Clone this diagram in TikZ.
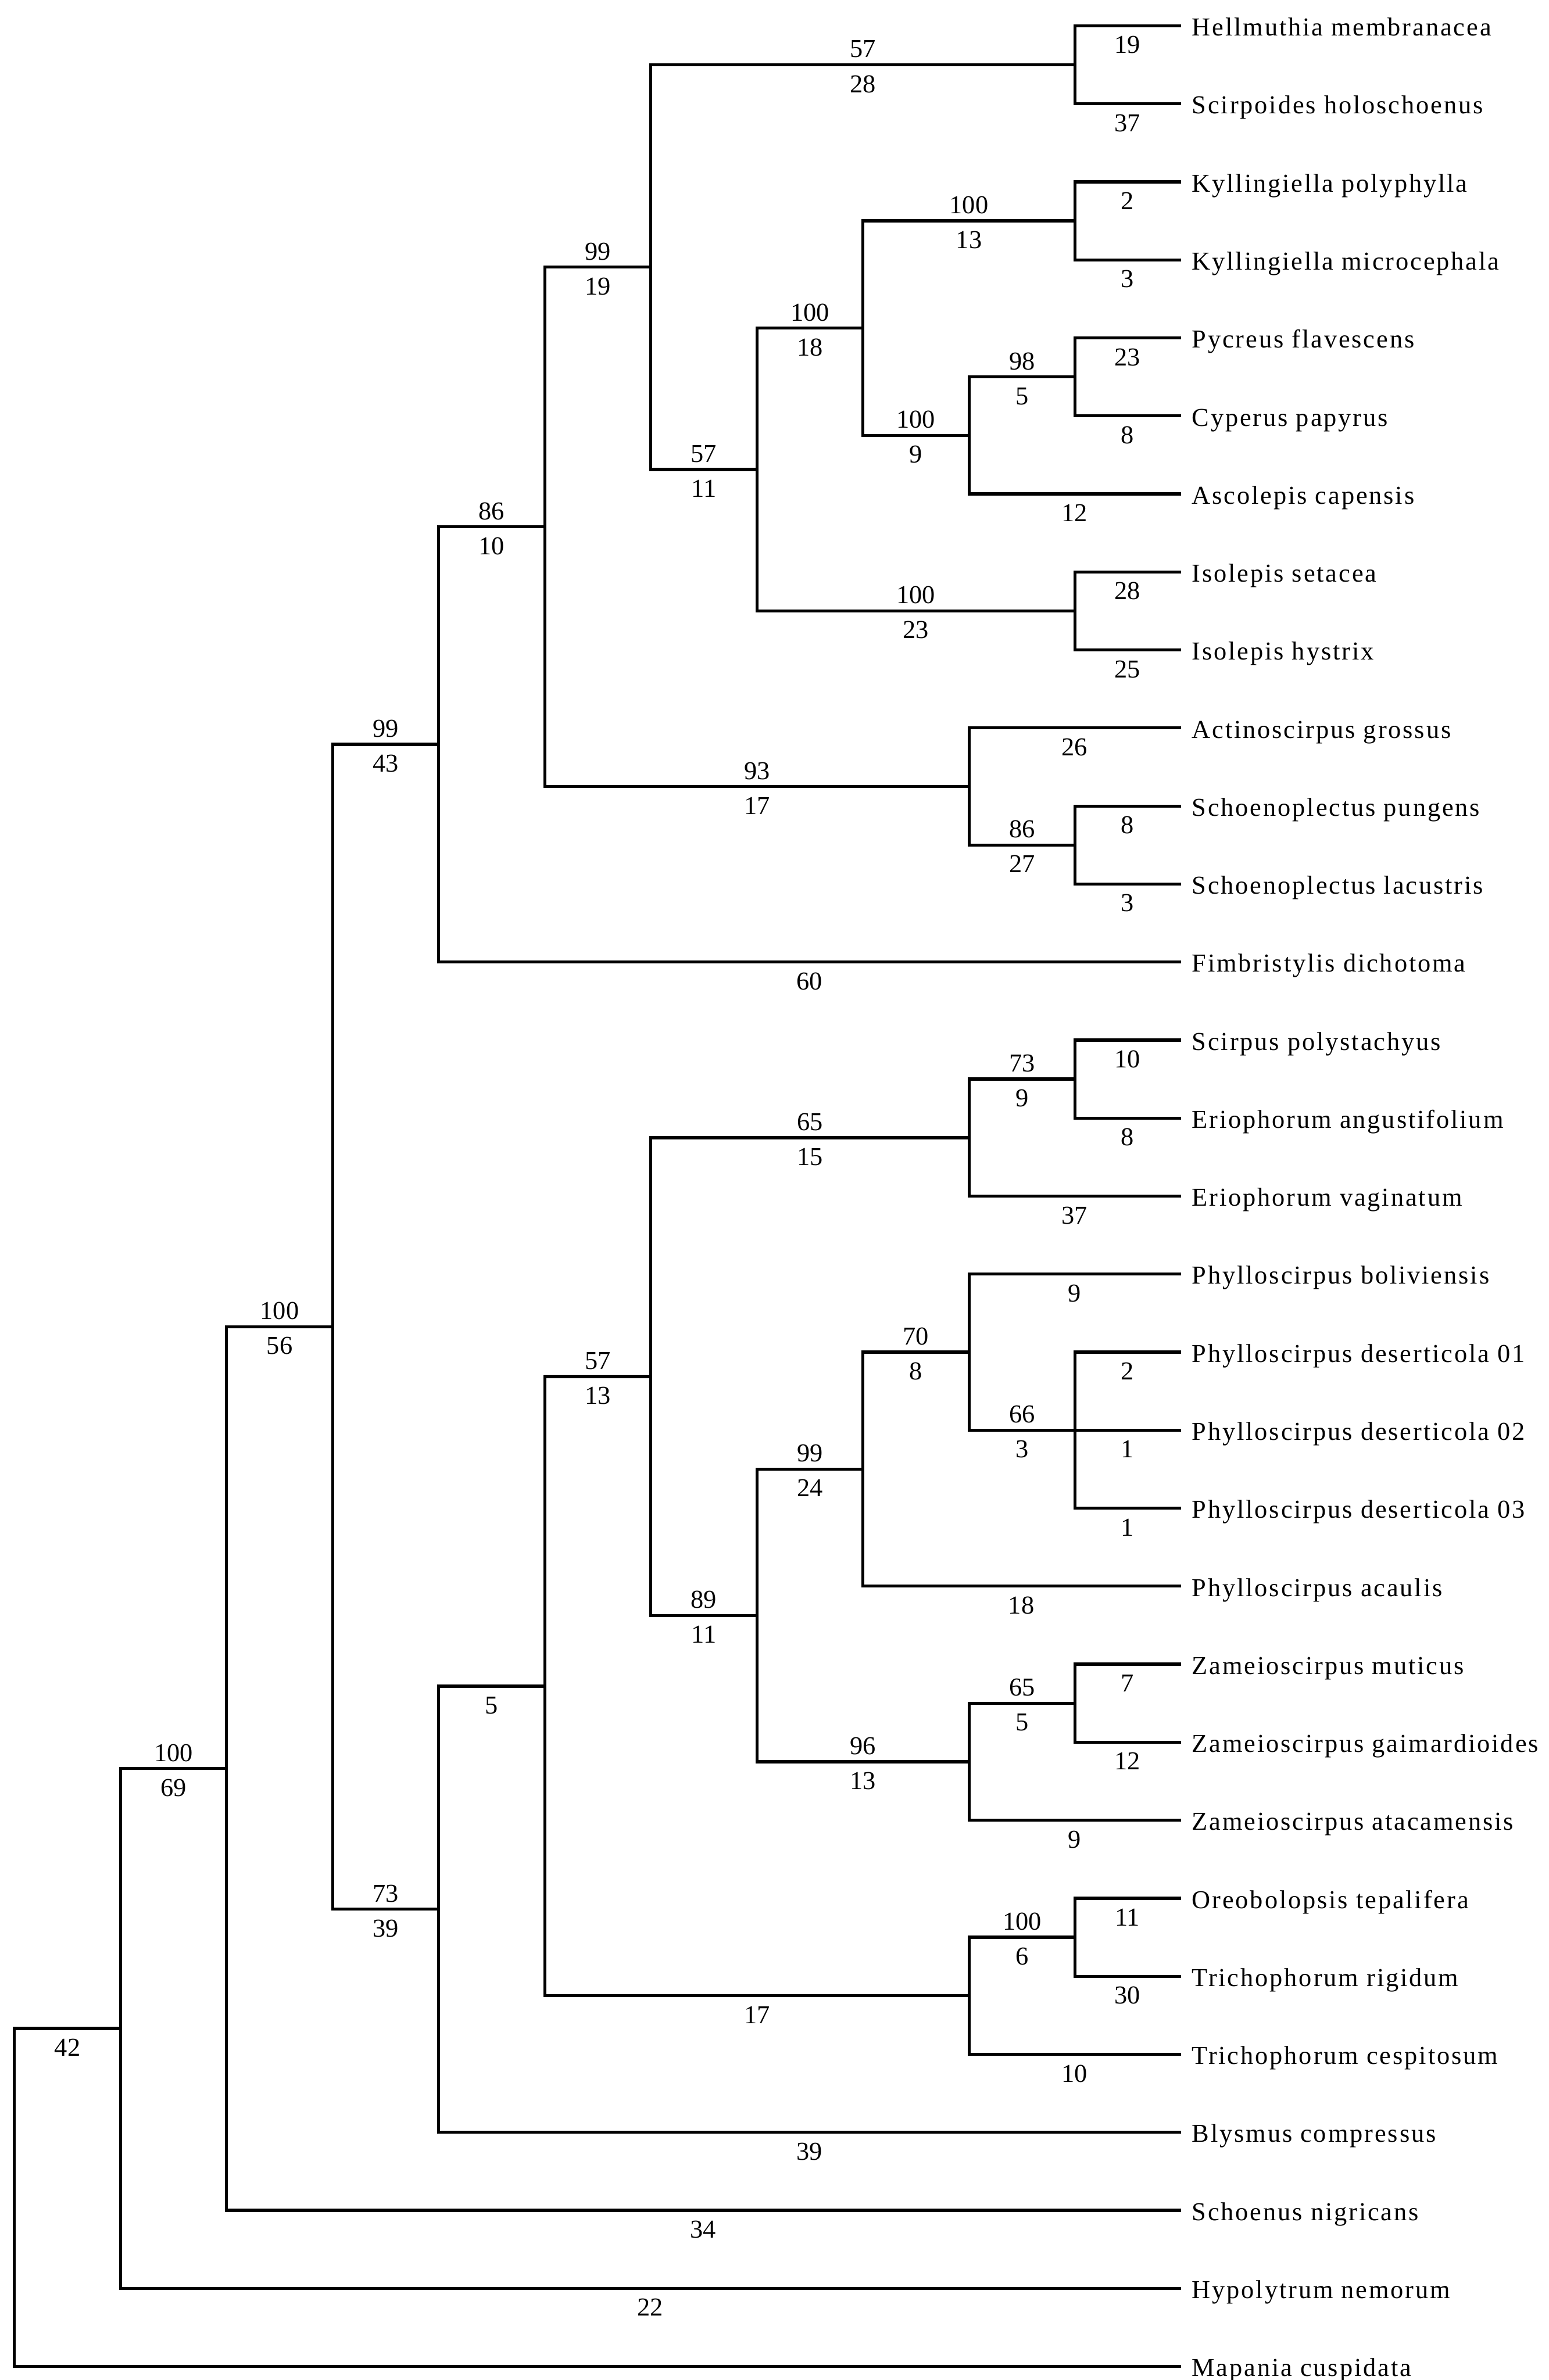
\documentclass[tikz,border=0pt]{standalone}
\usepackage{fontspec}
\setmainfont{Liberation Serif}
\newfontfamily\taxfont{Liberation Serif}[LetterSpace=6.5]
\begin{document}
\begin{tikzpicture}[x=0.5pt,y=-0.5pt,
  br/.style={line width=1pt, line join=miter, line cap=rect, black},
  taxon/.style={font=\taxfont\fontsize{8.5}{10}\selectfont, anchor=west, inner xsep=4pt, inner ysep=0pt, outer sep=0pt, text height=0.66em, text depth=0pt},
  num/.style={font=\fontsize{8.5}{10}\selectfont, inner sep=0pt, text height=0.68em, text depth=0pt, pos=0.75},
  up/.style={num, above=1.9pt},
  dn/.style={num, below=1.8pt}]
\fill[white] (0,0) rectangle (1020,1568);
\useasboundingbox (0,0) rectangle (1020,1568);
% depth levels
\def\dZ{9.5}\def\dI{79.4}\def\dII{149.2}\def\dIII{219.1}\def\dIV{288.9}
\def\dV{358.8}\def\dVI{428.6}\def\dVII{498.5}\def\dVIII{568.3}\def\dIX{638.2}\def\dX{708}
\def\tip{777}
% leaves
\node[taxon] (t1)  at (\tip,17)     {Hellmuthia membranacea};
\node[taxon] (t2)  at (\tip,68.4)   {Scirpoides holoschoenus};
\node[taxon] (t3)  at (\tip,119.8)  {Kyllingiella polyphylla};
\node[taxon] (t4)  at (\tip,171.2)  {Kyllingiella microcephala};
\node[taxon] (t5)  at (\tip,222.6)  {Pycreus flavescens};
\node[taxon] (t6)  at (\tip,274)    {Cyperus papyrus};
\node[taxon] (t7)  at (\tip,325.4)  {Ascolepis capensis};
\node[taxon] (t8)  at (\tip,376.8)  {Isolepis setacea};
\node[taxon] (t9)  at (\tip,428.2)  {Isolepis hystrix};
\node[taxon] (t10) at (\tip,479.6)  {Actinoscirpus grossus};
\node[taxon] (t11) at (\tip,531)    {Schoenoplectus pungens};
\node[taxon] (t12) at (\tip,582.4)  {Schoenoplectus lacustris};
\node[taxon] (t13) at (\tip,633.8)  {Fimbristylis dichotoma};
\node[taxon] (t14) at (\tip,685.2)  {Scirpus polystachyus};
\node[taxon] (t15) at (\tip,736.6)  {Eriophorum angustifolium};
\node[taxon] (t16) at (\tip,788)    {Eriophorum vaginatum};
\node[taxon] (t17) at (\tip,839.4)  {Phylloscirpus boliviensis};
\node[taxon] (t18) at (\tip,890.8)  {Phylloscirpus deserticola 01};
\node[taxon] (t19) at (\tip,942.2)  {Phylloscirpus deserticola 02};
\node[taxon] (t20) at (\tip,993.6)  {Phylloscirpus deserticola 03};
\node[taxon] (t21) at (\tip,1045)   {Phylloscirpus acaulis};
\node[taxon] (t22) at (\tip,1096.4) {Zameioscirpus muticus};
\node[taxon] (t23) at (\tip,1147.8) {Zameioscirpus gaimardioides};
\node[taxon] (t24) at (\tip,1199.2) {Zameioscirpus atacamensis};
\node[taxon] (t25) at (\tip,1250.6) {Oreobolopsis tepalifera};
\node[taxon] (t26) at (\tip,1302)   {Trichophorum rigidum};
\node[taxon] (t27) at (\tip,1353.4) {Trichophorum cespitosum};
\node[taxon] (t28) at (\tip,1404.8) {Blysmus compressus};
\node[taxon] (t29) at (\tip,1456.2) {Schoenus nigricans};
\node[taxon] (t30) at (\tip,1507.6) {Hypolytrum nemorum};
\node[taxon] (t31) at (\tip,1559)   {Mapania cuspidata};
% internal nodes
\coordinate (nA) at (\dX,42.7);
\coordinate (nB) at (\dX,145.5);
\coordinate (nC) at (\dX,248.3);
\coordinate (nD) at (\dIX,286.85);
\coordinate (nE) at (\dVIII,216.2);
\coordinate (nF) at (\dX,402.5);
\coordinate (nG) at (\dVII,309.3);
\coordinate (nH) at (\dVI,176);
\coordinate (nI) at (\dX,556.7);
\coordinate (nJ) at (\dIX,518.15);
\coordinate (nK) at (\dV,347.1);
\coordinate (nL) at (\dIV,490.4);
\coordinate (nM) at (\dX,710.9);
\coordinate (nN) at (\dIX,749.5);
\coordinate (nO) at (\dX,942.2);
\coordinate (nP) at (\dIX,890.8);
\coordinate (nQ) at (\dVIII,967.9);
\coordinate (nR) at (\dX,1122.1);
\coordinate (nS) at (\dIX,1160.65);
\coordinate (nT) at (\dVII,1064.3);
\coordinate (nU) at (\dVI,906.9);
\coordinate (nV) at (\dX,1276.3);
\coordinate (nW) at (\dIX,1314.85);
\coordinate (nX) at (\dV,1110.9);
\coordinate (nY) at (\dIV,1257.85);
\coordinate (nZ) at (\dIII,874.1);
\coordinate (nAA) at (\dII,1165.15);
\coordinate (nAB) at (\dI,1336.4);
\coordinate (nRoot) at (\dZ,1447.7);
% branches
\draw[br] (nA) |- node[dn]{19} (t1.west);
\draw[br] (nA) |- node[dn]{37} (t2.west);
\draw[br] (nB) |- node[dn]{2} (t3.west);
\draw[br] (nB) |- node[dn]{3} (t4.west);
\draw[br] (nC) |- node[dn]{23} (t5.west);
\draw[br] (nC) |- node[dn]{8} (t6.west);
\draw[br] (nD) |- node[up]{98} node[dn]{5} (nC);
\draw[br] (nD) |- node[dn]{12} (t7.west);
\draw[br] (nE) |- node[up]{100} node[dn]{13} (nB);
\draw[br] (nE) |- node[up]{100} node[dn]{9} (nD);
\draw[br] (nF) |- node[dn]{28} (t8.west);
\draw[br] (nF) |- node[dn]{25} (t9.west);
\draw[br] (nG) |- node[up]{100} node[dn]{18} (nE);
\draw[br] (nG) |- node[up]{100} node[dn]{23} (nF);
\draw[br] (nH) |- node[up]{57} node[dn]{28} (nA);
\draw[br] (nH) |- node[up]{57} node[dn]{11} (nG);
\draw[br] (nI) |- node[dn]{8} (t11.west);
\draw[br] (nI) |- node[dn]{3} (t12.west);
\draw[br] (nJ) |- node[dn]{26} (t10.west);
\draw[br] (nJ) |- node[up]{86} node[dn]{27} (nI);
\draw[br] (nK) |- node[up]{99} node[dn]{19} (nH);
\draw[br] (nK) |- node[up]{93} node[dn]{17} (nJ);
\draw[br] (nL) |- node[up]{86} node[dn]{10} (nK);
\draw[br] (nL) |- node[dn]{60} (t13.west);
\draw[br] (nM) |- node[dn]{10} (t14.west);
\draw[br] (nM) |- node[dn]{8} (t15.west);
\draw[br] (nN) |- node[up]{73} node[dn]{9} (nM);
\draw[br] (nN) |- node[dn]{37} (t16.west);
\draw[br] (nO) |- node[dn]{2} (t18.west);
\draw[br] (nO) |- node[dn]{1} (t19.west);
\draw[br] (nO) |- node[dn]{1} (t20.west);
\draw[br] (nP) |- node[dn]{9} (t17.west);
\draw[br] (nP) |- node[up]{66} node[dn]{3} (nO);
\draw[br] (nQ) |- node[up]{70} node[dn]{8} (nP);
\draw[br] (nQ) |- node[dn]{18} (t21.west);
\draw[br] (nR) |- node[dn]{7} (t22.west);
\draw[br] (nR) |- node[dn]{12} (t23.west);
\draw[br] (nS) |- node[up]{65} node[dn]{5} (nR);
\draw[br] (nS) |- node[dn]{9} (t24.west);
\draw[br] (nT) |- node[up]{99} node[dn]{24} (nQ);
\draw[br] (nT) |- node[up]{96} node[dn]{13} (nS);
\draw[br] (nU) |- node[up]{65} node[dn]{15} (nN);
\draw[br] (nU) |- node[up]{89} node[dn]{11} (nT);
\draw[br] (nV) |- node[dn]{11} (t25.west);
\draw[br] (nV) |- node[dn]{30} (t26.west);
\draw[br] (nW) |- node[up]{100} node[dn]{6} (nV);
\draw[br] (nW) |- node[dn]{10} (t27.west);
\draw[br] (nX) |- node[up]{57} node[dn]{13} (nU);
\draw[br] (nX) |- node[dn]{17} (nW);
\draw[br] (nY) |- node[dn]{5} (nX);
\draw[br] (nY) |- node[dn]{39} (t28.west);
\draw[br] (nZ) |- node[up]{99} node[dn]{43} (nL);
\draw[br] (nZ) |- node[up]{73} node[dn]{39} (nY);
\draw[br] (nAA) |- node[up]{100} node[dn]{56} (nZ);
\draw[br] (nAA) |- node[dn]{34} (t29.west);
\draw[br] (nAB) |- node[up]{100} node[dn]{69} (nAA);
\draw[br] (nAB) |- node[dn]{22} (t30.west);
\draw[br] (nRoot) |- node[dn]{42} (nAB);
\draw[br] (nRoot) |- (t31.west);
\end{tikzpicture}
\end{document}
